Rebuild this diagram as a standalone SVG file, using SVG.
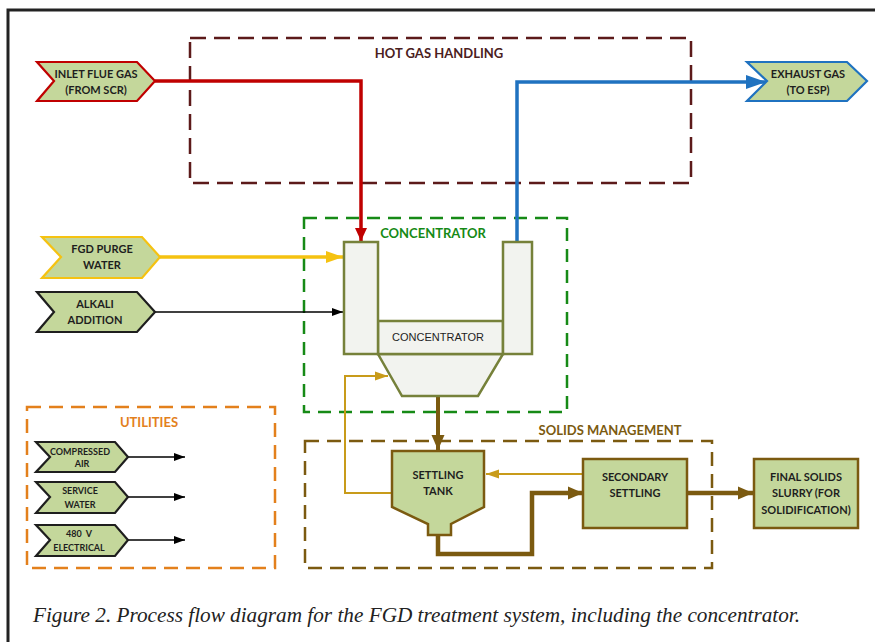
<svg xmlns="http://www.w3.org/2000/svg" width="875" height="642" viewBox="0 0 875 642">
<style>
.lbl{font-family:Lato,"Open Sans","Liberation Sans",sans-serif;font-weight:bold;text-anchor:middle;fill:#1e1e1e}
.s11{font-size:11px}
.s9{font-size:9px}
.hdr{font-family:Lato,"Open Sans","Liberation Sans",sans-serif;font-weight:bold;font-size:13px;text-anchor:middle}
.chev{fill:#c4d79b;stroke-width:2.2;stroke-linejoin:miter}
.box{fill:#c4d79b;stroke:#7b5a10;stroke-width:2.5}
.ves{fill:#f2f3ef;stroke:#76813a;stroke-width:2.5}
.zone{fill:none;stroke-width:2.5}
</style>
<defs>
<marker id="aRed" markerUnits="userSpaceOnUse" markerWidth="14" markerHeight="14" refX="13" refY="7" orient="auto"><path d="M0,1 L13,7 L0,13 Z" fill="#c00000"/></marker>
<marker id="aBlue" markerUnits="userSpaceOnUse" markerWidth="22" markerHeight="16" refX="20" refY="8" orient="auto"><path d="M0,1 L20,8 L0,15 Z" fill="#1f72c0"/></marker>
<marker id="aYel" markerUnits="userSpaceOnUse" markerWidth="18" markerHeight="14" refX="17" refY="7" orient="auto"><path d="M0,1 L17,7 L0,13 Z" fill="#f5c211"/></marker>
<marker id="aBlk" markerUnits="userSpaceOnUse" markerWidth="12" markerHeight="10" refX="11" refY="5" orient="auto"><path d="M0,1 L11,5 L0,9 Z" fill="#000"/></marker>
<marker id="aBrn" markerUnits="userSpaceOnUse" markerWidth="16" markerHeight="14" refX="15" refY="7" orient="auto"><path d="M0,0.5 L15,7 L0,13.5 Z" fill="#7b5a10"/></marker>
<marker id="aGold" markerUnits="userSpaceOnUse" markerWidth="14" markerHeight="10" refX="13" refY="5" orient="auto"><path d="M0,0.5 L13,5 L0,9.5 Z" fill="#c89b1a"/></marker>
</defs>

<rect width="875" height="642" fill="#fff"/>
<polyline points="8,642 8,10 875,10" fill="none" stroke="#222" stroke-width="3"/>

<g id="zone-hot-gas">
<rect class="zone" x="190" y="38" width="501" height="145" stroke="#5c1a1a" stroke-dasharray="16,8"/>
<text class="hdr" x="439" y="58" fill="#4a2020">HOT GAS HANDLING</text>
</g>
<g id="zone-concentrator">
<rect class="zone" x="304" y="218" width="263" height="194" stroke="#168a16" stroke-dasharray="13,8"/>
<text class="hdr" x="433" y="238" fill="#168a16">CONCENTRATOR</text>
</g>
<g id="zone-solids">
<rect class="zone" x="305" y="441" width="407" height="127" stroke="#7b5a10" stroke-dasharray="14,8"/>
<text class="hdr" x="610" y="435" fill="#7b5a10">SOLIDS MANAGEMENT</text>
</g>
<g id="zone-utilities">
<rect class="zone" x="27" y="407" width="248" height="161" stroke="#e3801c" stroke-dasharray="14,8"/>
<text class="hdr" x="149" y="427" fill="#e3801c">UTILITIES</text>
</g>

<g id="connectors" fill="none">
<polyline points="155,81 361,81 361,241" stroke="#c00000" stroke-width="3.5" marker-end="url(#aRed)"/>
<polyline points="517,242 517,82 766,82" stroke="#1f72c0" stroke-width="3.5" marker-end="url(#aBlue)"/>
<line x1="160" y1="257" x2="343" y2="257" stroke="#f5c211" stroke-width="3.5" marker-end="url(#aYel)"/>
<line x1="155" y1="312" x2="343" y2="312" stroke="#000" stroke-width="1.5" marker-end="url(#aBlk)"/>
<line x1="438" y1="396" x2="438" y2="450" stroke="#7b5a10" stroke-width="4" marker-end="url(#aBrn)"/>
<polyline points="392,493 345,493 345,376 388,376" stroke="#c89b1a" stroke-width="2" marker-end="url(#aGold)"/>
<line x1="583" y1="474" x2="486" y2="474" stroke="#c89b1a" stroke-width="2" marker-end="url(#aGold)"/>
<polyline points="438,535 438,554 532,554 532,493 583,493" stroke="#7b5a10" stroke-width="4.5" marker-end="url(#aBrn)"/>
<line x1="687" y1="493" x2="753" y2="493" stroke="#7b5a10" stroke-width="4.5" marker-end="url(#aBrn)"/>
<line x1="128" y1="457" x2="185" y2="457" stroke="#000" stroke-width="1.5" marker-end="url(#aBlk)"/>
<line x1="128" y1="497" x2="185" y2="497" stroke="#000" stroke-width="1.5" marker-end="url(#aBlk)"/>
<line x1="128" y1="540" x2="185" y2="540" stroke="#000" stroke-width="1.5" marker-end="url(#aBlk)"/>
</g>

<g id="inlet-flue-gas">
<polygon class="chev" points="37,62 137,62 155,81 137,101 37,101 54,81" stroke="#c00000"/>
<text class="lbl s11" x="96" y="78">INLET FLUE GAS</text>
<text class="lbl s11" x="96" y="94">(FROM SCR)</text>
</g>
<g id="exhaust-gas">
<polygon class="chev" points="747,62 847,62 867,81 847,101 747,101 767,81" stroke="#1f72c0"/>
<text class="lbl s11" x="808" y="78">EXHAUST GAS</text>
<text class="lbl s11" x="808" y="94">(TO ESP)</text>
</g>
<g id="fgd-purge-water">
<polygon class="chev" points="42,237 142,237 160,257 142,278 42,278 61,257" stroke="#f5c211"/>
<text class="lbl s11" x="102" y="253">FGD PURGE</text>
<text class="lbl s11" x="102" y="269">WATER</text>
</g>
<g id="alkali-addition">
<polygon class="chev" points="37,292 137,292 155,312 137,332 37,332 54,312" stroke="#1e1e1e"/>
<text class="lbl s11" x="95" y="308">ALKALI</text>
<text class="lbl s11" x="95" y="324">ADDITION</text>
</g>

<g id="concentrator">
<polygon class="ves" points="378,354 503,354 478,396 402,396"/>
<rect class="ves" x="378" y="321" width="125" height="33"/>
<rect class="ves" x="344" y="242" width="34" height="112"/>
<rect class="ves" x="503" y="242" width="29" height="112"/>
<text x="438" y="341" font-family="'Liberation Sans',Arial,sans-serif" font-size="11" text-anchor="middle" fill="#1e1e1e">CONCENTRATOR</text>
</g>

<g id="settling-tank">
<polygon class="box" points="392,451 484,451 484,507 451,524 451,535 428,535 428,524 392,507"/>
<text class="lbl s11" x="438" y="479">SETTLING</text>
<text class="lbl s11" x="438" y="495">TANK</text>
</g>
<g id="secondary-settling">
<rect class="box" x="583" y="459" width="104" height="69"/>
<text class="lbl s11" x="635" y="481">SECONDARY</text>
<text class="lbl s11" x="635" y="497">SETTLING</text>
</g>
<g id="final-solids">
<rect class="box" x="754" y="459" width="104" height="69"/>
<text class="lbl s11" x="806" y="481">FINAL SOLIDS</text>
<text class="lbl s11" x="806" y="497">SLURRY (FOR</text>
<text class="lbl s11" x="806" y="514">SOLIDIFICATION)</text>
</g>

<g id="compressed-air">
<polygon class="chev" points="36,442 115,442 128,457 115,472 36,472 50,457" stroke="#1e1e1e" stroke-width="1.8"/>
<text class="lbl s9" x="80" y="455">COMPRESSED</text>
<text class="lbl s9" x="82" y="467">AIR</text>
</g>
<g id="service-water">
<polygon class="chev" points="36,482 115,482 128,497 115,513 36,513 50,497" stroke="#1e1e1e" stroke-width="1.8"/>
<text class="lbl s9" x="80" y="494">SERVICE</text>
<text class="lbl s9" x="80" y="508">WATER</text>
</g>
<g id="electrical-480v">
<polygon class="chev" points="36,525 115,525 128,540 115,556 36,556 50,540" stroke="#1e1e1e" stroke-width="1.8"/>
<text class="lbl s9" x="79" y="537" xml:space="preserve">480  V</text>
<text class="lbl s9" x="79" y="551">ELECTRICAL</text>
</g>

<text x="33" y="622" font-family="'Liberation Serif','Times New Roman',serif" font-style="italic" font-size="21" textLength="767" lengthAdjust="spacingAndGlyphs" fill="#222">Figure 2. Process flow diagram for the FGD treatment system, including the concentrator.</text>
</svg>
